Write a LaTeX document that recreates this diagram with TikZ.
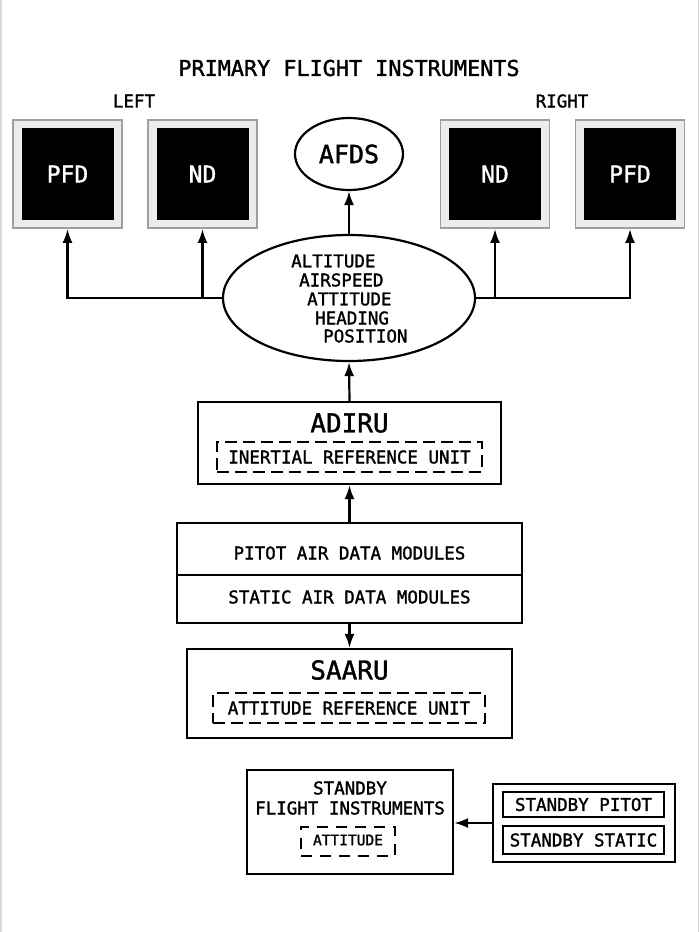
\documentclass[tikz,border=0pt]{standalone}
\usepackage{fontspec}
\setmainfont{DejaVu Sans Mono}[FakeBold=1.5]
\usetikzlibrary{arrows.meta,shapes.geometric}
\newcommand{\fs}[1]{\fontsize{#1}{#1}\selectfont}
\tikzset{
  conn/.style={line width=2.2pt,-{Latex[length=14pt,width=10pt]}},
  box/.style={draw,line width=2.2pt,rectangle,inner sep=0pt},
  dbox/.style={draw,line width=2pt,rectangle,inner sep=0pt,dash pattern=on 12pt off 6pt},
  bezel/.style={draw=gray!75,fill=gray!15,line width=1.8pt,rectangle,inner sep=0pt,minimum width=109pt,minimum height=108pt},
  screen/.style={fill=black,rectangle,inner sep=0pt,minimum width=92pt,minimum height=92pt,text=white,font=\fs{23}},
  lbl/.style={inner sep=0pt,font=\fs{17.5}},
}
\begin{document}
\begin{tikzpicture}[x=1pt,y=-1pt]
\useasboundingbox (0,0) rectangle (700,932);
\draw[gray!30,line width=1.5pt] (0.75,0) -- (0.75,932);
\draw[gray!30,line width=1.5pt] (698.5,0) -- (698.5,932);

\node[inner sep=0pt,font=\fs{21.8}] (title) at (349,68) {PRIMARY FLIGHT INSTRUMENTS};
\node[lbl] (left) at (134,101) {LEFT};
\node[lbl] (right) at (562,101) {RIGHT};

% displays
\node[bezel] (pfdL) at (67.5,174) {};
\node[screen] (pfdLs) at (67.5,174) {PFD};
\node[bezel] (ndL) at (202.5,174) {};
\node[screen] (ndLs) at (202.5,174) {ND};
\node[bezel] (ndR) at (495,174) {};
\node[screen] (ndRs) at (495,174) {ND};
\node[bezel] (pfdR) at (630,174) {};
\node[screen] (pfdRs) at (630,174) {PFD};

% AFDS
\node[draw,ellipse,line width=2.2pt,minimum width=108pt,minimum height=72pt,inner sep=0pt,font=\fs{25}] (afds) at (349,154) {AFDS};

% big ellipse
\node[draw,ellipse,line width=2.2pt,minimum width=252pt,minimum height=126pt,inner sep=0pt] (big) at (349,298) {};
\node[lbl,anchor=west] (l1) at (291,261) {ALTITUDE};
\node[lbl,anchor=west] (l2) at (299,280) {AIRSPEED};
\node[lbl,anchor=west] (l3) at (307,299) {ATTITUDE};
\node[lbl,anchor=west] (l4) at (315,318) {HEADING};
\node[lbl,anchor=west] (l5) at (323,336) {POSITION};

% ADIRU
\node[box,minimum width=303pt,minimum height=82pt] (adiru) at (349.5,443) {};
\node[inner sep=0pt,font=\fs{26}] (adirut) at (349.5,423) {ADIRU};
\node[dbox,minimum width=265pt,minimum height=30pt] (iru) at (349.5,457) {};
\node[lbl] (irut) at (349.5,457) {INERTIAL REFERENCE UNIT};

% air data modules
\node[box,minimum width=345pt,minimum height=52pt] (pitot) at (349.5,549) {};
\node[box,minimum width=345pt,minimum height=48pt] (static) at (349.5,599) {};
\node[lbl] (pitott) at (349.5,553) {PITOT AIR DATA MODULES};
\node[lbl] (statict) at (349.5,597) {STATIC AIR DATA MODULES};

% SAARU
\node[box,minimum width=325pt,minimum height=89pt] (saaru) at (349.5,693.5) {};
\node[inner sep=0pt,font=\fs{26}] (saarut) at (349.5,670) {SAARU};
\node[dbox,minimum width=272pt,minimum height=30pt] (aru) at (349,708) {};
\node[lbl] (arut) at (349,708) {ATTITUDE REFERENCE UNIT};

% standby
\node[box,minimum width=206pt,minimum height=104pt] (sbfi) at (350,822) {};
\node[lbl] (sbt1) at (350,788) {STANDBY};
\node[lbl] (sbt2) at (350,808) {FLIGHT INSTRUMENTS};
\node[dbox,line width=1.8pt,minimum width=94pt,minimum height=29pt,dash pattern=on 11pt off 8pt] (sbatt) at (348,841.5) {};
\node[inner sep=0pt,font=\fs{14.5}] (sbattt) at (348,840) {ATTITUDE};

\node[box,minimum width=182pt,minimum height=78pt] (sbsrc) at (584,823) {};
\node[box,line width=2.5pt,minimum width=161pt,minimum height=25pt,font=\fs{17.5}] (sbp) at (583.5,804.5) {STANDBY PITOT};
\node[box,line width=2.5pt,minimum width=161pt,minimum height=28pt,font=\fs{17.5}] (sbs) at (583.5,840) {STANDBY STATIC};

% connectors
\draw[conn] (big.north) -- (afds.south);
\draw[conn] (big.west) -| (pfdL.south);
\draw[conn] (ndL.south |- big.west) -- (ndL.south);
\draw[conn] (big.east) -| (pfdR.south);
\draw[conn] (ndR.south |- big.east) -- (ndR.south);
\draw[conn] (adiru.north) -- (big.south);
\draw[conn] (pitot.north) -- (adiru.south);
\draw[conn] (static.south) -- (saaru.north);
\draw[conn] (sbsrc.west) -- (sbfi.east |- sbsrc.west);
\end{tikzpicture}
\end{document}
